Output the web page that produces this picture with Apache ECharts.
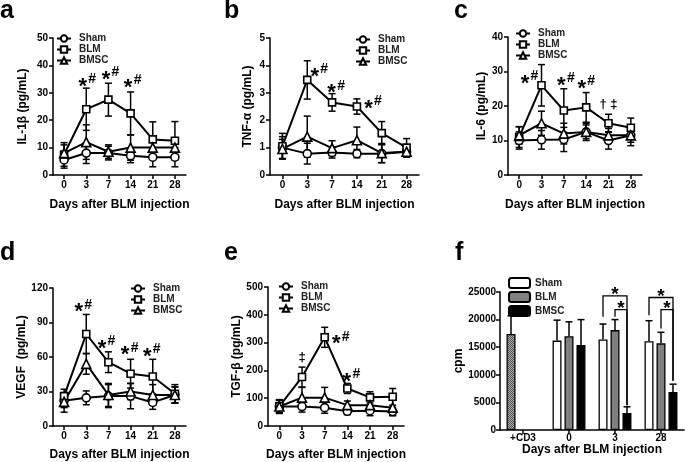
<!DOCTYPE html>
<html><head><meta charset="utf-8">
<script src="https://cdn.jsdelivr.net/npm/echarts@6/dist/echarts.min.js"></script>
<style>html,body{margin:0;padding:0;background:#fff}#c{width:685px;height:462px}</style>
</head><body><div id="c"></div>
<script>
// ---------- DATA ----------
const days = ['0', '3', '7', '14', '21', '28'];

// a: IL-1β (pg/mL)
const il1bSham = [5.5, 8, 8, 7, 6.5, 6.5];
const il1bShamSd = [3, 3.8, 2.5, 2.5, 3.5, 3.5];
const il1bBlm = [7.5, 24, 27.5, 22.5, 13, 12.5];
const il1bBlmSd = [4.3, 7.7, 6, 7.8, 6.4, 7];
const il1bBmsc = [8, 12, 8.5, 10, 10, 10];
const il1bBmscSd = [3, 6.3, 2.5, 4.6, 3, 3];
const il1bMarks = [[3, 34.5, '*#'], [7, 37, '*#'], [14, 34, '*#']];

// b: TNF-α (pg/mL)
const tnfSham = [1.0, 0.78, 0.82, 0.78, 0.78, 0.85];
const tnfShamSd = [0.4, 0.38, 0.2, 0.15, 0.33, 0.2];
const tnfBlm = [1.05, 3.47, 2.65, 2.5, 1.53, 1.0];
const tnfBlmSd = [0.47, 0.7, 0.32, 0.28, 0.42, 0.33];
const tnfBmsc = [0.95, 1.4, 0.98, 1.27, 0.8, 0.85];
const tnfBmscSd = [0.35, 0.75, 0.27, 0.48, 0.35, 0.2];
const tnfMarks = [[3, 3.8, '*#'], [7, 3.2, '*#'], [14, 2.64, '*#']];

// c: IL-6 (pg/mL)
const il6Sham = [10, 10.2, 10.3, 12.5, 10, 11.5];
const il6ShamSd = [2.5, 2.7, 3.5, 2, 2.5, 2];
const il6Blm = [11, 26, 18.7, 19.6, 15, 13.7];
const il6BlmSd = [3, 6, 6.3, 4.3, 2.6, 2.8];
const il6Bmsc = [11.5, 15, 12, 12.5, 11.5, 11.5];
const il6BmscSd = [2.5, 3.5, 3, 2.5, 2, 3];
const il6Marks = [[3, 28.2, '*#'], [7, 27.5, '*#'], [14, 26.8, '*#'], [21, 20.6, '† ‡']];

// d: VEGF (pg/mL)
const vegfSham = [22, 24.5, 26, 26, 20.5, 27];
const vegfShamSd = [10, 6, 10, 11, 6, 7];
const vegfBlm = [26, 80, 55.5, 45.5, 43, 28];
const vegfBlmSd = [3, 17, 9, 12.5, 15, 8];
const vegfBmsc = [21, 54, 27, 30, 27, 27];
const vegfBmscSd = [5, 9, 10, 7, 9, 7];
const vegfMarks = [[3, 104, '*#'], [7, 72.5, '*#'], [14, 66.8, '*#'], [21, 65.6, '*#']];

// e: TGF-β (pg/mL)
const tgfSham = [70, 70, 66, 53, 55, 52];
const tgfShamSd = [22, 20, 20, 12, 18, 15];
const tgfBlm = [71, 176, 319, 135, 103, 105];
const tgfBlmSd = [22, 36, 36, 18, 20, 30];
const tgfBmsc = [70, 102, 102, 75, 75, 66];
const tgfBmscSd = [25, 37, 37, 15, 20, 28];
const tgfMarks = [[3, 247, '‡'], [7, 316, '*#'], [14, 180, '*#']];

// f: cpm
const fCategories = ['+CD3', '0', '3', '28'];
const fSham = [17400, 16200, 16400, 16100];
const fShamErr = [3300, 3700, 2800, 3700];
const fBlm = [null, 17000, 18100, 15700];
const fBlmErr = [null, 2600, 1900, 2000];
const fBmsc = [null, 15400, 3100, 6900];
const fBmscErr = [null, 4600, 1100, 1400];
// significance brackets: [group index, left bar slot, right bar slot, top value, left leg end, right leg end]
const fBrackets = [
  [2, 0, 2, 24300, 20500, 4500],
  [2, 1, 2, 21800, 20500, 4500],
  [3, 0, 2, 24000, 20800, 8900],
  [3, 1, 2, 21800, 18400, 8900]
];

const seriesNames = ['Sham', 'BLM', 'BMSC'];

// ---------- LAYOUT / STYLE ----------
const FF = '"Liberation Sans", Arial, Helvetica, sans-serif';
const panels = [
  { key: 'a', yName: 'IL-1β (pg/mL)', yMax: 50, yStep: 10, v: [il1bSham, il1bBlm, il1bBmsc], s: [il1bShamSd, il1bBlmSd, il1bBmscSd], marks: il1bMarks },
  { key: 'b', yName: 'TNF-α (pg/mL)', yMax: 5, yStep: 1, v: [tnfSham, tnfBlm, tnfBmsc], s: [tnfShamSd, tnfBlmSd, tnfBmscSd], marks: tnfMarks },
  { key: 'c', yName: 'IL-6 (pg/mL)', yMax: 40, yStep: 10, v: [il6Sham, il6Blm, il6Bmsc], s: [il6ShamSd, il6BlmSd, il6BmscSd], marks: il6Marks },
  { key: 'd', yName: 'VEGF  (pg/mL)', yMax: 120, yStep: 30, v: [vegfSham, vegfBlm, vegfBmsc], s: [vegfShamSd, vegfBlmSd, vegfBmscSd], marks: vegfMarks },
  { key: 'e', yName: 'TGF-β (pg/mL)', yMax: 500, yStep: 100, v: [tgfSham, tgfBlm, tgfBmsc], s: [tgfShamSd, tgfBlmSd, tgfBmscSd], marks: tgfMarks }
];
const geom = [
  { left: 53, top: 38, width: 133, height: 137, yGap: 24, xGap: 24, xMargin: 5, lgLeft: 56, lgTop: 33, dx: [1, 2, 2] },
  { left: 270, top: 38, width: 149, height: 137, yGap: 16, xGap: 24, xMargin: 5, lgLeft: 355, lgTop: 34, dx: [12, 4, 16] },
  { left: 508, top: 37, width: 134, height: 138, yGap: 20, xGap: 24, xMargin: 5, lgLeft: 515, lgTop: 28, dx: [-12, 2, 0, 0] },
  { left: 53, top: 288, width: 133, height: 139, yGap: 24, xGap: 23, xMargin: 5, lgLeft: 130, lgTop: 283, dx: [-3, -2, -1, -1] },
  { left: 268, top: 287, width: 136, height: 139, yGap: 22, xGap: 23, xMargin: 5, lgLeft: 278, lgTop: 281, dx: [0, 16, 4] }
];
const fGeom = { left: 500, top: 292, width: 184, height: 138 };
const letters = [['a', 0, 11], ['b', 224, 11], ['c', 454, 11], ['d', 0, 253], ['e', 224, 253], ['f', 455, 253]];
const symbols = ['circle', 'rect', 'triangle'];
const symbolSizes = [8, 7, 9];
const SLOT = 12; // px between bar centres in panel f

const axisLineStyle = { show: true, lineStyle: { color: '#000', width: 1.5 } };
const tickStyle = { show: true, length: 4, lineStyle: { color: '#000', width: 1.5 } };
const labelStyle = { color: '#000', fontSize: 10, fontWeight: 'bold', fontFamily: FF };
const titleStyle = { color: '#000', fontSize: 12, fontWeight: 'bold', fontFamily: FF };

function errBars(ax, vals, sds) {
  return {
    type: 'custom', xAxisIndex: ax, yAxisIndex: ax, z: 2, silent: true,
    data: vals.map((v, i) => [i, v, sds[i]]), encode: { x: 0, y: 1 },
    renderItem: (p, api) => {
      const i = api.value(0), m = api.value(1), s = api.value(2);
      const t = api.coord([i, m + s]), b = api.coord([i, Math.max(0, m - s)]);
      const x = t[0], w = 3.5;
      const st = () => ({ stroke: '#000', lineWidth: 1.5 });
      return { type: 'group', children: [
        { type: 'line', shape: { x1: x, y1: t[1], x2: x, y2: b[1] }, style: st() },
        { type: 'line', shape: { x1: x - w, y1: t[1], x2: x + w, y2: t[1] }, style: st() },
        { type: 'line', shape: { x1: x - w, y1: b[1], x2: x + w, y2: b[1] }, style: st() }
      ] };
    }
  };
}

function marksSeries(ax, marks, dx) {
  return {
    type: 'custom', xAxisIndex: ax, yAxisIndex: ax, z: 5, silent: true,
    data: marks.map(m => [days.indexOf(String(m[0])), m[1]]), encode: { x: 0, y: 1 },
    renderItem: (p, api) => {
      const c = api.coord([api.value(0), api.value(1)]);
      const x = c[0] + (dx[p.dataIndex] || 0), y = c[1];
      const txt = marks[p.dataIndex][2];
      if (txt === '*#') {
        return { type: 'group', children: [
          { type: 'text', x: x - 4.5, y: y + 6, style: { text: '*', font: 'bold 22px ' + FF, fill: '#000', align: 'center', verticalAlign: 'middle' } },
          { type: 'text', x: x + 5, y: y - 1.5, style: { text: '#', font: 'bold 14px ' + FF, fill: '#000', align: 'center', verticalAlign: 'middle' } }
        ] };
      }
      return { type: 'text', x: x, y: y, style: { text: txt, font: 'bold 13px ' + FF, fill: '#000', align: 'center', verticalAlign: 'middle' } };
    }
  };
}

const option = { animation: false, backgroundColor: '#fff', grid: [], xAxis: [], yAxis: [], legend: [], series: [], graphic: [] };

panels.forEach((p, k) => {
  const g = geom[k];
  option.grid.push({ left: g.left, top: g.top, width: g.width, height: g.height });
  option.xAxis.push({
    type: 'category', gridIndex: k, data: days, boundaryGap: true,
    axisLine: axisLineStyle, axisTick: Object.assign({ alignWithLabel: true }, tickStyle),
    axisLabel: Object.assign({ margin: g.xMargin }, labelStyle), splitLine: { show: false },
    name: 'Days after BLM injection', nameLocation: 'middle', nameGap: g.xGap, nameTextStyle: titleStyle
  });
  option.yAxis.push({
    type: 'value', gridIndex: k, min: 0, max: p.yMax, interval: p.yStep,
    axisLine: axisLineStyle, axisTick: tickStyle, axisLabel: Object.assign({ margin: 5 }, labelStyle),
    splitLine: { show: false },
    name: p.yName, nameLocation: 'middle', nameRotate: 90, nameGap: g.yGap, nameTextStyle: titleStyle
  });
  seriesNames.forEach((n, j) => {
    option.series.push(errBars(k, p.v[j], p.s[j]));
    option.series.push({
      type: 'line', name: p.key + ':' + n, xAxisIndex: k, yAxisIndex: k, data: p.v[j],
      symbol: symbols[j], symbolSize: symbolSizes[j], showAllSymbol: true, z: 3,
      lineStyle: { color: '#000', width: 2 },
      itemStyle: { color: '#fff', borderColor: '#000', borderWidth: 1.6 }
    });
  });
  option.series.push(marksSeries(k, p.marks, g.dx));
  option.legend.push({
    orient: 'vertical', left: g.lgLeft, top: g.lgTop, itemWidth: 14, itemHeight: 8, itemGap: 0,
    padding: 0, selectedMode: false, data: seriesNames.map(n => p.key + ':' + n),
    formatter: n => n.split(':')[1],
    textStyle: { fontSize: 10, lineHeight: 11, fontWeight: 'bold', color: '#222', fontFamily: FF, padding: [0, 0, 0, 3] }
  });
});

// ---------- panel f ----------
const fIdx = panels.length;
option.grid.push({ left: fGeom.left, top: fGeom.top, width: fGeom.width, height: fGeom.height });
option.xAxis.push({
  type: 'category', gridIndex: fIdx, data: fCategories, boundaryGap: true,
  axisLine: axisLineStyle, axisTick: Object.assign({ alignWithLabel: true }, tickStyle),
  axisLabel: Object.assign({ margin: 3 }, labelStyle), splitLine: { show: false },
  name: 'Days after BLM injection', nameLocation: 'middle', nameGap: 11, nameTextStyle: titleStyle
});
option.yAxis.push({
  type: 'value', gridIndex: fIdx, min: 0, max: 25000, interval: 5000,
  axisLine: axisLineStyle, axisTick: tickStyle,
  axisLabel: Object.assign({ margin: 4, formatter: v => String(v) }, labelStyle),
  splitLine: { show: false },
  name: 'cpm', nameLocation: 'middle', nameRotate: 90, nameGap: 33, nameTextStyle: titleStyle
});

const pc = document.createElement('canvas');
pc.width = 2; pc.height = 2;
const pg = pc.getContext('2d');
pg.fillStyle = '#b0b0b0'; pg.fillRect(0, 0, 2, 2);
pg.fillStyle = '#505050'; pg.fillRect(0, 0, 1, 1); pg.fillRect(1, 1, 1, 1);
const cd3Fill = { image: pc, repeat: 'repeat' };

const fVals = [fSham, fBlm, fBmsc];
const fErrs = [fShamErr, fBlmErr, fBmscErr];
const fColors = ['#fff', '#808080', '#000'];
seriesNames.forEach((n, j) => {
  option.series.push({
    type: 'bar', name: 'f:' + n, xAxisIndex: fIdx, yAxisIndex: fIdx, barWidth: 9, barGap: '33%', z: 2,
    data: fVals[j].map((v, i) => (j === 0 && i === 0) ? { value: v, itemStyle: { color: cd3Fill } } : (v == null ? '-' : v)),
    itemStyle: { color: fColors[j], borderColor: '#000', borderWidth: 1.3 }
  });
  const d = [];
  fVals[j].forEach((v, i) => { if (v != null) d.push([i, v, fErrs[j][i]]); });
  option.series.push({
    type: 'custom', xAxisIndex: fIdx, yAxisIndex: fIdx, z: 3, silent: true, data: d, encode: { x: 0, y: 1 },
    renderItem: (p, api) => {
      const i = api.value(0), v = api.value(1), e = api.value(2);
      const b = api.coord([i, v]), t = api.coord([i, v + e]);
      const x = b[0] + (j - 1) * SLOT, w = 3.5;
      return { type: 'group', children: [
        { type: 'line', shape: { x1: x, y1: b[1], x2: x, y2: t[1] }, style: { stroke: '#000', lineWidth: 1.5 } },
        { type: 'line', shape: { x1: x - w, y1: t[1], x2: x + w, y2: t[1] }, style: { stroke: '#000', lineWidth: 1.5 } }
      ] };
    }
  });
});
option.series.push({
  type: 'custom', xAxisIndex: fIdx, yAxisIndex: fIdx, z: 4, silent: true, data: fBrackets, encode: { x: 0, y: 3 },
  renderItem: (p, api) => {
    const gi = api.value(0), ls = api.value(1), rs = api.value(2);
    const top = api.coord([gi, api.value(3)]);
    const yL = api.coord([gi, api.value(4)])[1], yR = api.coord([gi, api.value(5)])[1];
    const xL = top[0] + (ls - 1) * SLOT, xR = top[0] + (rs - 1) * SLOT, yT = top[1];
    return { type: 'group', children: [
      { type: 'polyline', shape: { points: [[xL, yL], [xL, yT], [xR, yT], [xR, yR]] }, style: { stroke: '#000', lineWidth: 1.3, fill: null } },
      { type: 'text', x: (xL + xR) / 2, y: yT - 1, style: { text: '*', font: 'bold 19px ' + FF, fill: '#000', align: 'center', verticalAlign: 'middle' } }
    ] };
  }
});
option.legend.push({
  orient: 'vertical', left: 508, top: 277, itemWidth: 21, itemHeight: 10, itemGap: 2, padding: 0,
  selectedMode: false, data: seriesNames.map(n => 'f:' + n),
  formatter: n => n.split(':')[1],
  textStyle: { fontSize: 10, lineHeight: 11, fontWeight: 'bold', color: '#222', fontFamily: FF }
});

letters.forEach(l => {
  option.graphic.push({ type: 'text', x: l[1], y: l[2], style: { text: l[0], font: 'bold 25px ' + FF, fill: '#000', verticalAlign: 'middle' } });
});

const chart = echarts.init(document.getElementById('c'), null, { renderer: 'canvas' });
chart.setOption(option);
</script>
</body></html>
